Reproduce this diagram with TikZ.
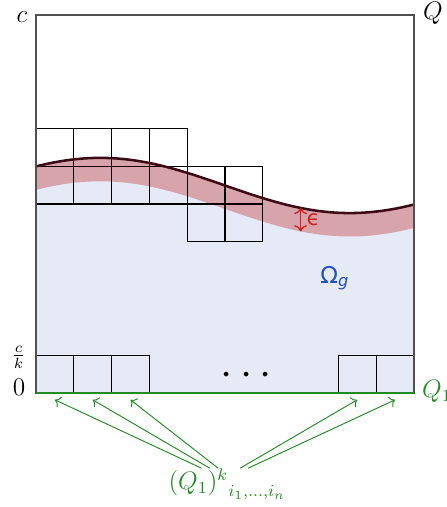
\documentclass[tikz,border=0pt]{standalone}
\usepackage{amsmath}
\usepackage{fontspec}
\newfontfamily\dejavu{DejaVu Sans}
\usetikzlibrary{arrows.meta, positioning, calc}
\definecolor{omegafill}{HTML}{E6EAF6}
\definecolor{bandred}{HTML}{D8A4AC}
\definecolor{curvedark}{HTML}{3C0A14}
\definecolor{boxgray}{HTML}{505050}
\definecolor{cgreen}{HTML}{228B22}
\definecolor{epsred}{HTML}{D21E1E}
\definecolor{omegablue}{HTML}{1E50C8}

\begin{document}
\begin{tikzpicture}[x=0.63cm, y=0.63cm,
    cell/.style={draw=black, line width=0.5pt},
    lab/.style={text=black, font=\large},
    grn/.style={text=cgreen, font=\large},
    feeder/.style={cgreen, line width=0.45pt, ->},
]
\useasboundingbox (-0.952,-3.016) rectangle (10.873,10.397);
\def\wave#1{5.49+0.73*cos(27.27*(#1-1.7))}
\def\bandw{0.62}

% region under the graph and the epsilon band
\fill[omegafill] (0,0) -- plot[domain=0:10, samples=100] (\x,{\wave{\x}}) -- (10,0) -- cycle;
\fill[bandred] plot[domain=0:10, samples=100] (\x,{\wave{\x}})
    -- plot[domain=10:0, samples=100] (\x,{\wave{\x}-\bandw}) -- cycle;

% covering cubes
\foreach \x in {0,...,3}{
    \foreach \y in {5,6}{
        \draw[cell] (\x,\y) rectangle ++(1,1);
    }
}
\foreach \x in {4,5}{
    \foreach \y in {4,5}{
        \draw[cell] (\x,\y) rectangle ++(1,1);
    }
}
\foreach \x in {0,1,2,8,9}{
    \draw[cell] (\x,0) rectangle ++(1,1);
}

\draw[curvedark, line width=1.2pt] plot[domain=0:10, samples=100] (\x,{\wave{\x}});
\draw[boxgray, line width=0.6pt] (0,0) rectangle (10,10);
\draw[cgreen, line width=0.8pt] (0,0) -- (10,0);

% epsilon
\coordinate (etop) at (7,{\wave{7}});
\coordinate (ebot) at (7,{\wave{7}-\bandw});
\draw[epsred, line width=0.6pt, <->] (etop) -- (ebot);
\node[text=epsred] (epslab) at (7.34,4.58) {\dejavu ϵ};
\node[text=omegablue] (omega) at (7.91,3.04) {\fontsize{11pt}{13pt}\selectfont\dejavu Ω\textsubscript{\itshape g}};
\node (dots) at (5.66,0.45) {\huge$\cdots$};

% axis labels
\node[lab] (ctop) at (-0.37,9.95) {$c$};
\node[lab] (qtop) at (10.5,10.05) {$Q$};
\node[lab, font=\normalsize] (cfrac) at (-0.46,0.94) {$\frac{c}{k}$};
\node[lab] (zero) at (-0.45,0.15) {$0$};
\node[grn, anchor=west] (qone) at (10.02,0.05) {$Q_1$};

% the bottom cubes
\node[grn, anchor=north, inner sep=0pt] (qlbl) at (5.06,-1.99) {${(Q_1)^k}_{i_1,\dots,i_n}$};
\foreach \i/\t in {1/0.5, 2/1.5, 3/2.5, 4/8.5, 5/9.5}{
    \coordinate (t\i) at (\t,-0.18);
}
\foreach \i/\d in {1/-0.68, 2/-0.46, 3/-0.24, 4/0.34, 5/0.55}{
    \draw[feeder] ($(qlbl.north)+(\d,0)$) -- (t\i);
}
\end{tikzpicture}
\end{document}
